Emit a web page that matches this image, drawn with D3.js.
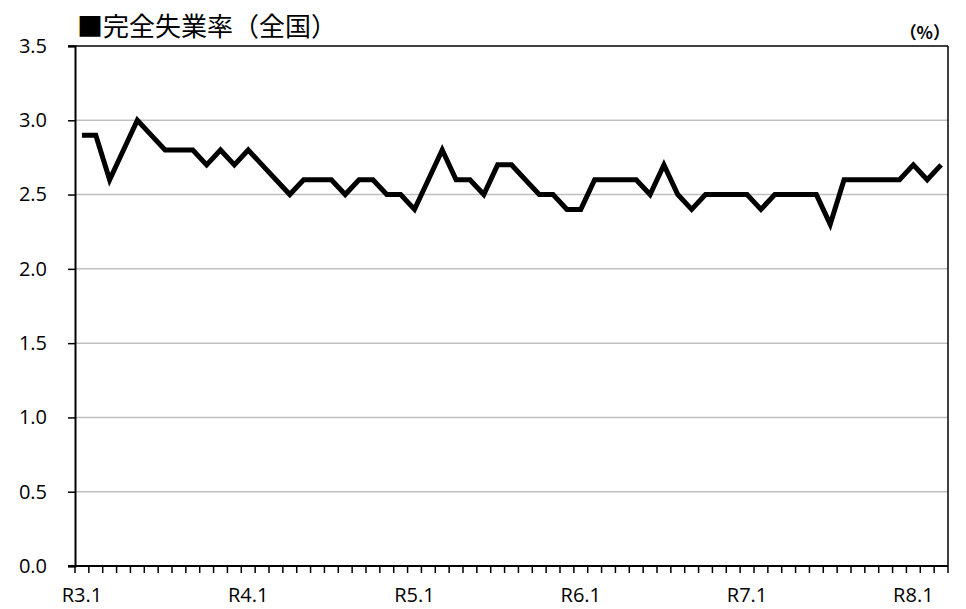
<!DOCTYPE html>
<html>
<head>
<meta charset="utf-8">
<script src="https://cdn.jsdelivr.net/npm/d3@7"></script>
<style>
html,body{margin:0;padding:0;background:#fff;}
svg{display:block;}
</style>
</head>
<body>
<svg id="chart" width="966" height="609"></svg>
<script>
const years = ["R3","R4","R5","R6","R7","R8"];
const categories = [];
years.forEach((y, i) => {
  const n = (i === years.length - 1) ? 3 : 12;
  for (let m = 1; m <= n; m++) categories.push(y + "." + m);
});
const values = [
  2.9,2.9,2.6,2.8,3.0,2.9,2.8,2.8,2.8,2.7,2.8,2.7,
  2.8,2.7,2.6,2.5,2.6,2.6,2.6,2.5,2.6,2.6,2.5,2.5,
  2.4,2.6,2.8,2.6,2.6,2.5,2.7,2.7,2.6,2.5,2.5,2.4,
  2.4,2.6,2.6,2.6,2.6,2.5,2.7,2.5,2.4,2.5,2.5,2.5,
  2.5,2.4,2.5,2.5,2.5,2.5,2.3,2.6,2.6,2.6,2.6,2.6,
  2.7,2.6,2.7
];
const yTicks = [0.0,0.5,1.0,1.5,2.0,2.5,3.0,3.5];
const xLabels = ["R3.1","R4.1","R5.1","R6.1","R7.1","R8.1"];
const title = "■完全失業率（全国）";
const unit = "（%）";

const svg = d3.select("#chart");
const L = 75, R = 948, T = 46, B = 566;
const labelFont = "'Open Sans', 'Liberation Sans', sans-serif";

const x = d3.scaleBand().domain(categories).range([L, R]).padding(0);
const y = d3.scaleLinear().domain([0, 3.5]).range([B, T]);

// gridlines
svg.append("g").selectAll("line")
  .data(yTicks.filter(v => v > 0 && v < 3.5))
  .join("line")
  .attr("x1", L).attr("x2", R)
  .attr("y1", d => y(d)).attr("y2", d => y(d))
  .attr("stroke", "#bfbfbf").attr("stroke-width", 1.5);

// top and right border
svg.append("line").attr("x1", L - 7).attr("x2", R).attr("y1", T).attr("y2", T)
  .attr("stroke", "#000").attr("stroke-width", 1.5);
svg.append("line").attr("x1", R).attr("x2", R).attr("y1", T).attr("y2", B)
  .attr("stroke", "#000").attr("stroke-width", 1.5);

// y axis
const yAxis = d3.axisLeft(y).tickValues(yTicks).tickFormat(d3.format(".1f")).tickSize(7).tickPadding(21);
const gy = svg.append("g").attr("transform", `translate(${L},0)`).call(yAxis);
gy.select(".domain").attr("stroke-width", 2);
gy.selectAll(".tick line").attr("stroke-width", 1.5);
gy.selectAll("text").style("font-family", labelFont)
  .style("font-size", "20px").attr("fill", "#000");

// x axis ticks at band boundaries
const bw = x.bandwidth();
const gx = svg.append("g");
gx.append("line").attr("x1", L - 7).attr("x2", R).attr("y1", B).attr("y2", B)
  .attr("stroke", "#000").attr("stroke-width", 2);
gx.selectAll("line.t").data(categories.concat(["end"])).join("line").attr("class","t")
  .attr("x1", (d, i) => L + i * bw).attr("x2", (d, i) => L + i * bw)
  .attr("y1", B).attr("y2", B + 7)
  .attr("stroke", "#000").attr("stroke-width", 1.5);
gx.selectAll("text").data(xLabels).join("text")
  .attr("x", d => x(d) + bw / 2)
  .attr("y", 602)
  .attr("text-anchor", "middle")
  .style("font-family", labelFont)
  .style("font-size", "20px").attr("fill", "#000")
  .text(d => d);

// line
const line = d3.line().x((d, i) => x(categories[i]) + bw / 2).y(d => y(d));
svg.append("path").datum(values)
  .attr("d", line)
  .attr("fill", "none").attr("stroke", "#000").attr("stroke-width", 5)
  .attr("stroke-linejoin", "miter");

// title
svg.append("text").attr("x", 77).attr("y", 36)
  .style("font-family", "'Noto Sans CJK JP', sans-serif")
  .style("font-size", "26px").attr("fill", "#000")
  .text(title);
svg.append("text").attr("x", 950).attr("y", 39).attr("text-anchor", "end")
  .style("font-family", "'Noto Sans CJK JP', sans-serif")
  .style("font-size", "17px").attr("font-weight", "bold").attr("fill", "#000")
  .text(unit);
</script>
</body>
</html>
